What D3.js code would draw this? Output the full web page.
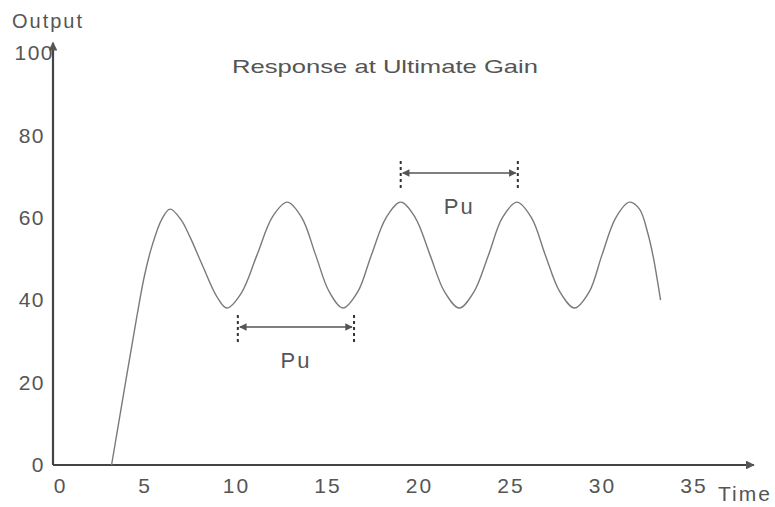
<!DOCTYPE html>
<html>

<head>
    <script src="https://d3js.org/d3.v7.min.js"></script>
    <meta charset="utf-8" />
    <title>Response at Ultimate Gain</title>
    <style>
        body { margin: 0; background: #fff; }
        text { font-family: "Liberation Sans", Arial, sans-serif; fill: #555; }
    </style>
</head>

<body>
    <div id="chart"></div>

    <script>
        // data
        const time = [3.2, 4.05, 4.6, 5.0, 5.4, 5.95, 6.4, 7.0, 7.49, 8.2, 8.96, 9.5,
            10.3, 11.15, 12.0, 12.8, 13.6, 14.35, 15.1, 15.85,
            16.65, 17.4, 18.2, 19.0, 19.8, 20.6, 21.4, 22.2,
            23.0, 23.8, 24.55, 25.35, 26.15, 26.9, 27.7, 28.5,
            29.3, 30.0, 30.75, 31.5, 32.05, 32.5, 32.8, 33.2];
        const output = [0, 22.3, 36.5, 46, 53, 59.7, 62.1, 59.5, 55.3, 48.1, 40.8, 38.1,
            41.8, 51, 60.3, 63.8, 60, 51, 42, 38.1,
            42, 51, 60, 63.8, 60, 51, 42, 38.1,
            42, 51, 60, 63.8, 60, 51, 42, 38.1,
            42, 51, 60, 63.8, 62.1, 56.3, 50.5, 40];

        const xTicks = [0, 5, 10, 15, 20, 25, 30, 35];
        const yTicks = [0, 20, 40, 60, 80, 100];

        // Pu period markers
        const puStart = [10.1, 19.0];
        const puEnd = [16.45, 25.4];
        const puLevel = [33.5, 70.9];

        const svgWidth = 775;
        const svgHeight = 507;

        const svg = d3.select("#chart")
            .append("svg")
            .attr("width", svgWidth)
            .attr("height", svgHeight);

        // scales
        const xScale = d3.scaleLinear().domain([0, 35]).range([53, 693.5]);
        const yScale = d3.scaleLinear().domain([0, 100]).range([465, 53]);

        // arrow markers
        const defs = svg.append("defs");
        defs.append("marker")
            .attr("id", "axisArrow")
            .attr("viewBox", "0 0 10 10")
            .attr("refX", 9).attr("refY", 5)
            .attr("markerWidth", 6).attr("markerHeight", 4)
            .attr("markerUnits", "strokeWidth")
            .attr("orient", "auto")
            .append("path")
            .attr("d", "M0,0 L10,5 L0,10 Z")
            .attr("fill", "#555");

        defs.append("marker")
            .attr("id", "puArrow")
            .attr("viewBox", "0 0 10 10")
            .attr("refX", 9).attr("refY", 5)
            .attr("markerWidth", 7).attr("markerHeight", 5)
            .attr("markerUnits", "strokeWidth")
            .attr("orient", "auto-start-reverse")
            .append("path")
            .attr("d", "M0,0 L10,5 L0,10 Z")
            .attr("fill", "#555");

        // axes (labels only)
        const xAxis = svg.append("g")
            .attr("transform", `translate(0, ${yScale(0)})`)
            .call(d3.axisBottom(xScale).tickValues(xTicks).tickSize(0).tickPadding(13));
        xAxis.select(".domain").remove();
        xAxis.selectAll("text")
            .style("font-size", "21px")
            .style("letter-spacing", "2px")
            .attr("fill", "#555");
        xAxis.selectAll("text").filter(d => d === 0).attr("dx", "7");

        const yAxis = svg.append("g")
            .attr("transform", `translate(${xScale(0)}, 0)`)
            .call(d3.axisLeft(yScale).tickValues(yTicks).tickSize(0).tickPadding(8));
        yAxis.select(".domain").remove();
        yAxis.selectAll("text")
            .style("font-size", "21px")
            .style("letter-spacing", "1.5px")
            .attr("fill", "#555");
        yAxis.selectAll("text").filter(d => d === 100).attr("dx", "9");

        // axis lines with arrows
        svg.append("line")
            .attr("x1", xScale(0)).attr("y1", yScale(0))
            .attr("x2", xScale(38.3)).attr("y2", yScale(0))
            .attr("stroke", "#444").attr("stroke-width", 2.2)
            .attr("marker-end", "url(#axisArrow)");

        svg.append("line")
            .attr("x1", xScale(0)).attr("y1", yScale(0))
            .attr("x2", xScale(0)).attr("y2", yScale(102.5))
            .attr("stroke", "#444").attr("stroke-width", 2.2)
            .attr("marker-end", "url(#axisArrow)");

        // response curve
        const points = time.map((t, i) => [t, output[i]]);
        const line = d3.line()
            .x(d => xScale(d[0]))
            .y(d => yScale(d[1]))
            .curve(d3.curveCatmullRom.alpha(0.5));

        svg.append("path")
            .datum(points)
            .attr("d", line)
            .attr("fill", "none")
            .attr("stroke", "#7a7a7a")
            .attr("stroke-width", 1.4);

        // Pu markers
        puStart.forEach((s, i) => {
            const yPos = yScale(puLevel[i]);
            const g = svg.append("g");
            [s, puEnd[i]].forEach(t => {
                g.append("line")
                    .attr("x1", xScale(t)).attr("x2", xScale(t))
                    .attr("y1", yPos - 12).attr("y2", yPos + 16)
                    .attr("stroke", "#333").attr("stroke-width", 2)
                    .attr("stroke-dasharray", "3,3");
            });
            g.append("line")
                .attr("x1", xScale(s) + 2).attr("x2", xScale(puEnd[i]) - 2)
                .attr("y1", yPos).attr("y2", yPos)
                .attr("stroke", "#555").attr("stroke-width", 1.5)
                .attr("marker-start", "url(#puArrow)")
                .attr("marker-end", "url(#puArrow)");
            g.append("text")
                .attr("x", (xScale(s) + xScale(puEnd[i])) / 2)
                .attr("y", yPos + 41)
                .attr("text-anchor", "middle")
                .style("font-size", "22px")
                .style("letter-spacing", "2px")
                .text("Pu");
        });

        // labels
        svg.append("text")
            .attr("x", 232)
            .attr("y", 73)
            .attr("textLength", 306)
            .attr("lengthAdjust", "spacingAndGlyphs")
            .style("font-size", "19px")
            .text("Response at Ultimate Gain");

        svg.append("text")
            .attr("x", 12)
            .attr("y", 28)
            .style("font-size", "20px")
            .style("letter-spacing", "2px")
            .text("Output");

        svg.append("text")
            .attr("x", 718)
            .attr("y", 501)
            .style("font-size", "21px")
            .style("letter-spacing", "2px")
            .text("Time");
    </script>
</body>

</html>
